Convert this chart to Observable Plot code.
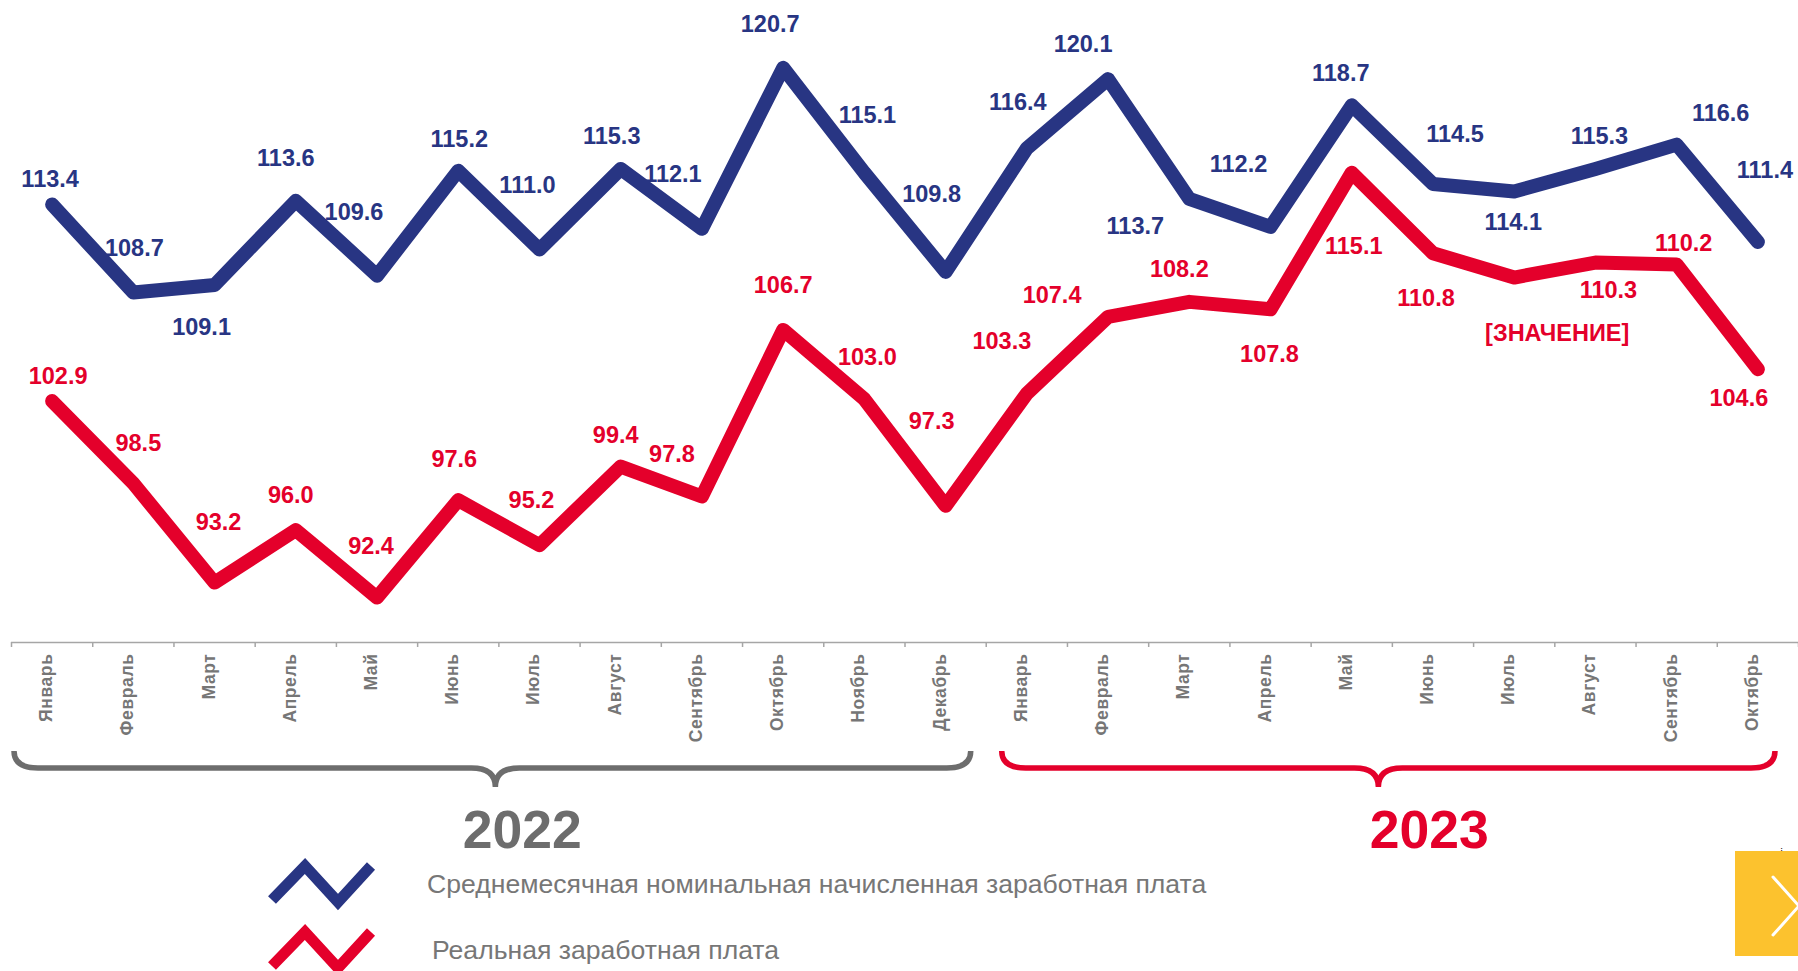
<!DOCTYPE html>
<html><head><meta charset="utf-8">
<script src="https://cdn.jsdelivr.net/npm/d3@7"></script>
<script src="https://cdn.jsdelivr.net/npm/@observablehq/plot@0.6"></script>
<style>
  body{margin:0;background:#fff;font-family:"Liberation Sans",Arial,sans-serif;}
  #wrap{position:relative;width:1798px;height:971px;overflow:hidden;background:#fff;}
  #chart{position:absolute;left:0;top:0;}
  #legend{position:absolute;left:0;top:858px;}
  #nav{position:absolute;left:1735px;top:851px;width:70px;height:105px;background:#fcc22e;}
  .months text{letter-spacing:0.6px;}
</style></head>
<body><div id="wrap"><div id="chart"></div><svg id="legend" width="1798" height="113"></svg><div id="nav"><svg width="70" height="105"><polyline points="38,26 64,55 38,84" fill="none" stroke="#fff" stroke-width="3" stroke-linecap="round"/></svg></div></div>
<script>
// ---- data ----
const months = ["Январь","Февраль","Март","Апрель","Май","Июнь","Июль","Август","Сентябрь","Октябрь","Ноябрь","Декабрь",
                "Январь","Февраль","Март","Апрель","Май","Июнь","Июль","Август","Сентябрь","Октябрь"];
const years = ["2022","2022","2022","2022","2022","2022","2022","2022","2022","2022","2022","2022",
               "2023","2023","2023","2023","2023","2023","2023","2023","2023","2023"];
const nominal = [113.4,108.7,109.1,113.6,109.6,115.2,111.0,115.3,112.1,120.7,115.1,109.8,
                 116.4,120.1,113.7,112.2,118.7,114.5,114.1,115.3,116.6,111.4];
const real = [102.9,98.5,93.2,96.0,92.4,97.6,95.2,99.4,97.8,106.7,103.0,97.3,
              103.3,107.4,108.2,107.8,115.1,110.8,109.5,110.3,110.2,104.6];
const realLabelText = {18: "[ЗНАЧЕНИЕ]"};
const seriesNames = ["Среднемесячная номинальная начисленная заработная плата","Реальная заработная плата"];

// ---- layout (label offsets in px) ----
const nominalOff = [[-2,-25],[1,-44],[-13,42],[-10,-42],[-23,-63],[1,-31],[-12,-64],[-9,-32],[-29,-54],[-13,-43],[3,-57],[-14,-77],
                    [-9,-46],[-25,-35],[-54,28],[-32,-63],[-11,-32],[22,-49],[-1,31],[4,-32],[44,-31],[7,-71]];
const realOff = [[6,-25],[5,-40],[4,-60],[-5,-35],[-6,-51],[-4,-41],[-8,-45],[-5,-31],[-30,-42],[0,-44],[3,-42],[-14,-84],
                 [-25,-52],[-56,-21],[-10,-32],[-1,45],[2,74],[-7,45],[43,56],[13,28],[7,-21],[-19,29]];

const blue = "#283583", red = "#e4002b", gray = "#6d6d6d", labelGray = "#767676";
const W = 1798, H = 858, AX = 642;

const rows = months.map((m, i) => ({i, month: m, year: years[i], nominal: nominal[i], real: real[i],
  realText: realLabelText[i] ?? real[i].toFixed(1)}));
const boundaries = d3.range(months.length + 1).map(k => k - 0.5);
const yearGroups = d3.groups(rows, d => d.year).map(([year, ds]) => ({year, first: ds[0].i, last: ds[ds.length-1].i}));
const braceStyle = {"2022": {color: gray, inL: 3, inR: -15, tip: 3, lab: 27}, "2023": {color: red, inL: 16, inR: -23, tip: -10, lab: 51}};

function braces(index, scales) {
  const g = d3.create("svg:g");
  const x = scales.x;
  yearGroups.forEach(gr => {
    const st = braceStyle[gr.year];
    const x1 = x(gr.first - 0.5) + st.inL, x2 = x(gr.last + 0.5) + st.inR;
    const xm = (x1 + x2) / 2 + st.tip;
    const yTop = AX + 109, yMid = AX + 126, yTip = AX + 145, r = 24;
    const p = `M${x1},${yTop} Q${x1},${yMid} ${x1 + r},${yMid} L${xm - r},${yMid} Q${xm},${yMid} ${xm},${yTip}` +
              ` Q${xm},${yMid} ${xm + r},${yMid} L${x2 - r},${yMid} Q${x2},${yMid} ${x2},${yTop}`;
    g.append("path").attr("d", p).attr("fill", "none").attr("stroke", st.color).attr("stroke-width", 5.5);
    g.append("text").attr("x", xm + st.lab).attr("y", AX + 206).attr("text-anchor", "middle")
      .attr("font-size", 53.5).attr("font-weight", "bold").attr("fill", st.color)
      .attr("font-family", "Liberation Sans, Arial, sans-serif").text(gr.year);
  });
  return g.node();
}

const labelMarks = [];
rows.forEach((r, k) => {
  labelMarks.push(Plot.text([r], {x: "i", y: "nominal", text: d => d.nominal.toFixed(1), dx: nominalOff[k][0], dy: nominalOff[k][1],
    fill: blue, fontSize: 23.5, fontWeight: "bold"}));
  labelMarks.push(Plot.text([r], {x: "i", y: "real", text: "realText", dx: realOff[k][0], dy: realOff[k][1],
    fill: red, fontSize: 23.5, fontWeight: "bold"}));
});

const plot = Plot.plot({
  width: W, height: H,
  marginLeft: 11, marginRight: 0, marginTop: 0, marginBottom: H - AX,
  x: {type: "linear", domain: [-0.5, months.length - 0.5], axis: null},
  y: {domain: [90, 124.3], axis: null},
  style: {fontFamily: "Liberation Sans, Arial, sans-serif", background: "transparent", overflow: "visible"},
  marks: [
    Plot.ruleY([90], {stroke: "#a6a6a6", strokeWidth: 1.5}),
    Plot.axisX({ticks: boundaries, tickSize: 5, tickFormat: () => "", anchor: "bottom", stroke: "#a6a6a6", strokeWidth: 1.5}),
    Plot.text(rows, {x: "i", frameAnchor: "bottom", text: "month", rotate: -90, textAnchor: "end", dy: 11,
      fill: labelGray, fontSize: 17.5, fontWeight: "bold", className: "months"}),
    Plot.line(rows, {x: "i", y: "nominal", stroke: blue, strokeWidth: 14, strokeLinejoin: "round", strokeLinecap: "round"}),
    Plot.line(rows, {x: "i", y: "real", stroke: red, strokeWidth: 14, strokeLinejoin: "round", strokeLinecap: "round"}),
    ...labelMarks,
    braces
  ]
});
document.getElementById("chart").append(plot);

// legend
const leg = d3.select("#legend");
const items = [
  {name: seriesNames[0], color: blue, pts: [[272,42],[305,8],[338,44],[371,8]], tx: 427, ty: 35},
  {name: seriesNames[1], color: red, pts: [[272,108],[305,74],[338,110],[371,74]], tx: 432, ty: 101}
];
items.forEach(it => {
  leg.append("polyline").attr("points", it.pts.map(p => p.join(",")).join(" "))
    .attr("fill", "none").attr("stroke", it.color).attr("stroke-width", 11).attr("stroke-linejoin", "miter");
  leg.append("text").attr("x", it.tx).attr("y", it.ty).attr("font-size", 26.6).attr("fill", "#777")
    .attr("font-family", "Liberation Sans, Arial, sans-serif").text(it.name);
});
</script></body></html>
